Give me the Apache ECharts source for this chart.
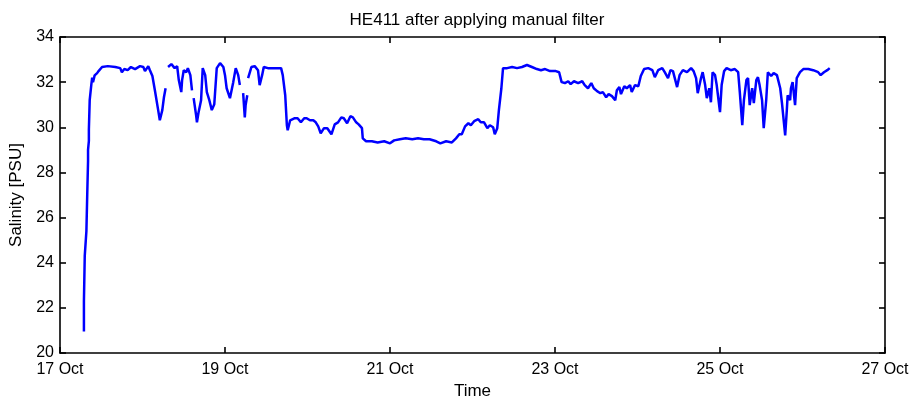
<!DOCTYPE html>
<html>
<head>
<meta charset="utf-8">
<script src="https://cdn.jsdelivr.net/npm/echarts@6/dist/echarts.min.js"></script>
<style>
  html, body { margin: 0; padding: 0; background: #fff; }
  #chart { width: 917px; height: 406px; }
</style>
</head>
<body>
<div id="chart"></div>
<script>
// day of October (fractional) and salinity in PSU, null marks a gap in the record
const days = [
  17.29, 17.29, 17.30, 17.32, 17.33, 17.34, 17.34, 17.35, 17.35, 17.36, 17.38, 17.39, 17.40, 17.42, 17.45, 17.47,
  17.51, 17.58, 17.67, 17.73, 17.75, 17.78, 17.82, 17.86, 17.91, 17.97, 18.01, 18.03, 18.07, 18.09, 18.12, 18.15,
  18.19, 18.21, 18.24, 18.26, 18.28, 18.30,
  18.31, 18.35, 18.37, 18.39, 18.42, 18.44, 18.47, 18.48, 18.50, 18.53, 18.55, 18.58, 18.60, 18.61,
  18.62, 18.65, 18.66, 18.68, 18.71, 18.73, 18.76, 18.78, 18.81, 18.84, 18.87, 18.90, 18.94, 18.98, 19.00, 19.02,
  19.06, 19.10, 19.13, 19.16, 19.18, 19.19,
  19.22, 19.24, 19.25, 19.27, 19.275,
  19.28, 19.32, 19.36, 19.40, 19.42, 19.45, 19.47, 19.52, 19.61, 19.68, 19.70, 19.73, 19.75, 19.76, 19.79, 19.84,
  19.88, 19.92, 19.96, 19.99, 20.03, 20.07, 20.10, 20.13, 20.16, 20.20, 20.24, 20.29, 20.33, 20.37, 20.41, 20.44,
  20.48, 20.52, 20.55, 20.59, 20.62, 20.66, 20.67, 20.71, 20.78, 20.85, 20.93, 21.00, 21.05, 21.12, 21.19, 21.27,
  21.34, 21.41, 21.48, 21.56, 21.61, 21.68, 21.75, 21.80, 21.84, 21.87, 21.91, 21.95, 21.98, 22.02, 22.07, 22.10,
  22.14, 22.18, 22.21, 22.25, 22.27, 22.30, 22.32, 22.35, 22.37, 22.42, 22.48, 22.54, 22.60, 22.66, 22.72, 22.78,
  22.83, 22.88, 22.94, 23.01, 23.05, 23.08, 23.12, 23.16, 23.19, 23.23, 23.28, 23.33, 23.36, 23.40, 23.44, 23.47,
  23.51, 23.55, 23.58, 23.62, 23.65, 23.69, 23.73, 23.75, 23.78, 23.80, 23.84, 23.87, 23.91, 23.93, 23.97, 24.01,
  24.04, 24.08, 24.13, 24.18, 24.21, 24.25, 24.30, 24.33, 24.37, 24.40, 24.43, 24.48, 24.51, 24.55, 24.60, 24.65,
  24.68, 24.71, 24.73, 24.77, 24.79, 24.82, 24.84, 24.87, 24.89, 24.91, 24.94, 24.96, 25.00, 25.02, 25.05, 25.08,
  25.13, 25.18, 25.22, 25.24, 25.27, 25.29, 25.32, 25.34, 25.36, 25.39, 25.41, 25.44, 25.46, 25.48, 25.51, 25.53,
  25.56, 25.58, 25.62, 25.65, 25.69, 25.73, 25.75, 25.79, 25.81, 25.82, 25.85, 25.86, 25.88, 25.91, 25.93, 25.97,
  26.01, 26.07, 26.13, 26.19, 26.22, 26.26, 26.30, 26.33
];
const salinity = [
  20.95, 22.3, 24.3, 25.4, 27.0, 28.5, 29.0, 29.4, 29.9, 31.2, 31.9, 32.2, 32.0, 32.3, 32.4, 32.5,
  32.67, 32.71, 32.67, 32.62, 32.44, 32.58, 32.53, 32.67, 32.58, 32.71, 32.67, 32.49, 32.71, 32.53, 32.27, 31.64,
  30.76, 30.31, 30.76, 31.33, 31.73, null,
  32.67, 32.8, 32.71, 32.62, 32.71, 32.09, 31.56, 32.09, 32.53, 32.44, 32.62, 32.31, 31.64, null,
  31.29, 30.53, 30.22, 30.67, 31.2, 32.62, 32.31, 31.56, 31.2, 30.76, 31.02, 32.62, 32.84, 32.67, 32.31, 31.73,
  31.29, 32.0, 32.62, 32.31, 31.87, null,
  31.51, 30.44, 30.98, 31.42, null,
  32.18, 32.67, 32.71, 32.53, 31.87, 32.31, 32.67, 32.62, 32.62, 32.62, 32.31, 31.42, 30.09, 29.87, 30.31, 30.4,
  30.4, 30.22, 30.4, 30.4, 30.31, 30.31, 30.22, 30.04, 29.73, 29.96, 29.96, 29.69, 30.13, 30.22, 30.44, 30.4,
  30.18, 30.49, 30.44, 30.22, 30.13, 29.96, 29.51, 29.38, 29.38, 29.33, 29.38, 29.29, 29.42, 29.47, 29.51, 29.47,
  29.51, 29.47, 29.47, 29.38, 29.29, 29.38, 29.33, 29.51, 29.69, 29.69, 30.04, 30.18, 30.09, 30.27, 30.36, 30.22,
  30.22, 29.96, 30.09, 30.0, 29.69, 29.96, 30.76, 31.73, 32.62, 32.62, 32.67, 32.62, 32.67, 32.76, 32.67, 32.58,
  32.53, 32.58, 32.49, 32.49, 32.44, 32.0, 31.96, 32.04, 31.91, 32.04, 31.96, 32.04, 31.87, 31.73, 31.96, 31.73,
  31.6, 31.51, 31.56, 31.33, 31.47, 31.38, 31.2, 31.64, 31.78, 31.47, 31.82, 31.73, 31.87, 31.56, 31.87, 31.82,
  32.27, 32.58, 32.62, 32.53, 32.22, 32.53, 32.62, 32.44, 32.18, 32.53, 32.49, 31.78, 32.31, 32.53, 32.44, 32.62,
  32.49, 32.18, 31.51, 32.18, 32.44, 31.87, 31.29, 31.73, 31.11, 32.44, 32.31, 31.87, 30.67, 31.87, 32.49, 32.62,
  32.53, 32.58, 32.44, 31.56, 30.09, 31.2, 32.09, 32.18, 30.98, 31.73, 31.07, 32.09, 32.22, 31.87, 31.2, 29.96,
  31.2, 32.44, 32.27, 32.4, 32.31, 31.73, 31.11, 29.64, 30.76, 31.42, 31.2, 31.73, 32.0, 30.98, 32.18, 32.44,
  32.58, 32.58, 32.53, 32.44, 32.31, 32.44, 32.53, 32.62
];

const chartTitle = 'HE411 after applying manual filter';
const xName = 'Time';
const yName = 'Salinity [PSU]';

const font = "'Liberation Sans', Arial, sans-serif";
const points = days.map((d, i) => [d, salinity[i]]);

const chart = echarts.init(document.getElementById('chart'));

const blackAxis = { lineStyle: { color: '#000', width: 1.6 } };
const tick = { inside: true, length: 6, lineStyle: { color: '#000', width: 1.6 } };

const option = {
    animation: false,
    backgroundColor: '#fff',
    title: {
        text: chartTitle,
        left: 472, top: 7, textAlign: 'center',
        textStyle: { fontFamily: font, fontSize: 17, fontWeight: 'normal', color: '#000' }
    },
    grid: { left: 60, right: 32, top: 37, bottom: 53 },
    xAxis: [
        {
            type: 'value', min: 17, max: 27, interval: 2,
            name: xName, nameLocation: 'middle', nameGap: 27,
            nameTextStyle: { fontFamily: font, fontSize: 17, color: '#000' },
            axisLine: blackAxis, axisTick: tick, splitLine: { show: false },
            axisLabel: { margin: 9, fontFamily: font, fontSize: 16, color: '#000', formatter: v => v + ' Oct' }
        },
        {
            type: 'value', min: 17, max: 27, interval: 2, position: 'top',
            axisLine: blackAxis, axisTick: tick, splitLine: { show: false }, axisLabel: { show: false }
        }
    ],
    yAxis: [
        {
            type: 'value', min: 20, max: 34, interval: 2,
            name: yName, nameLocation: 'middle', nameGap: 34, nameRotate: 90,
            nameTextStyle: { fontFamily: font, fontSize: 17, color: '#000' },
            axisLine: blackAxis, axisTick: tick, splitLine: { show: false },
            axisLabel: { margin: 6, fontFamily: font, fontSize: 16, color: '#000' }
        },
        {
            type: 'value', min: 20, max: 34, interval: 2, position: 'right',
            axisLine: blackAxis, axisTick: tick, splitLine: { show: false }, axisLabel: { show: false }
        }
    ],
    series: [
        {
            type: 'line',
            data: points,
            showSymbol: false,
            connectNulls: false,
            lineStyle: { color: '#0000ff', width: 2.5 },
            itemStyle: { color: '#0000ff' }
        }
    ]
};

chart.setOption(option);
</script>
</body>
</html>
